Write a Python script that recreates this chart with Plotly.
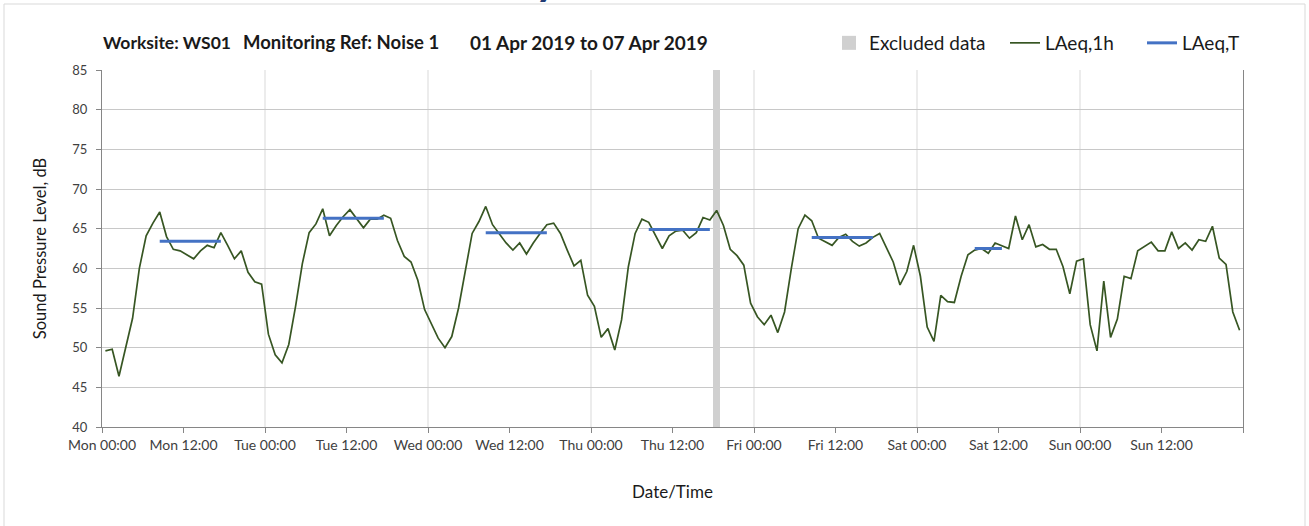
import pandas as pd
import plotly.graph_objects as go

# ---------------- data ----------------
period_start = "2019-04-01 00:00"
period_end = "2019-04-08 00:00"

# hourly LAeq,1h values (Mon 00:00 ... Sun 23:00), dB
laeq_1h_mon = [49.6, 49.8, 46.4, 50.2, 53.7, 60.0, 64.1, 65.7, 67.1, 64.0, 62.4, 62.2,
               61.7, 61.2, 62.2, 62.9, 62.6, 64.5, 62.9, 61.2, 62.2, 59.5, 58.3, 58.0]
laeq_1h_tue = [51.7, 49.1, 48.1, 50.4, 55.2, 60.6, 64.5, 65.6, 67.5, 64.1, 65.4, 66.5,
               67.4, 66.3, 65.1, 66.2, 66.2, 66.7, 66.3, 63.5, 61.5, 60.8, 58.5, 54.8]
laeq_1h_wed = [52.9, 51.2, 50.0, 51.4, 55.0, 59.8, 64.4, 65.9, 67.8, 65.5, 64.4, 63.2,
               62.3, 63.2, 61.8, 63.2, 64.4, 65.5, 65.7, 64.4, 62.3, 60.3, 61.0, 56.6]
laeq_1h_thu = [55.2, 51.3, 52.4, 49.7, 53.5, 60.2, 64.4, 66.2, 65.8, 64.2, 62.5, 64.1,
               64.7, 64.8, 63.8, 64.5, 66.4, 66.1, 67.3, 65.4, 62.4, 61.6, 60.4, 55.6]
laeq_1h_fri = [53.9, 52.9, 54.1, 51.9, 54.5, 60.0, 65.0, 66.7, 66.0, 63.8, 63.4, 62.9,
               63.9, 64.3, 63.4, 62.8, 63.2, 63.9, 64.4, 62.7, 60.8, 57.9, 59.6, 62.9]
laeq_1h_sat = [59.0, 52.6, 50.8, 56.6, 55.8, 55.7, 59.0, 61.7, 62.3, 62.5, 61.9, 63.2,
               62.9, 62.5, 66.6, 63.6, 65.5, 62.7, 63.0, 62.4, 62.4, 60.2, 56.8, 60.9]
laeq_1h_sun = [61.2, 52.9, 49.6, 58.4, 51.3, 53.6, 59.0, 58.7, 62.2, 62.8, 63.3, 62.2,
               62.2, 64.6, 62.5, 63.2, 62.3, 63.6, 63.4, 65.3, 61.3, 60.5, 54.5, 52.2]

# LAeq,T (working-hours average) per day
laeq_t_dates = ["2019-04-01", "2019-04-02", "2019-04-03", "2019-04-04", "2019-04-05", "2019-04-06"]
laeq_t_values = [63.4, 66.3, 64.5, 64.9, 63.9, 62.5]
laeq_t_start_hour = [8, 8, 8, 8, 8, 8]
laeq_t_end_hour = [18, 18, 18, 18, 18, 13]

# excluded period
excluded_start = "2019-04-04 18:00"
excluded_end = "2019-04-04 19:00"

y_min, y_max = 40, 85

title_parts = ["Worksite: WS01", "Monitoring Ref: Noise 1", "01 Apr 2019 to 07 Apr 2019"]

# ---------------- build ----------------
laeq_1h = (laeq_1h_mon + laeq_1h_tue + laeq_1h_wed + laeq_1h_thu
           + laeq_1h_fri + laeq_1h_sat + laeq_1h_sun)
half_hour = pd.Timedelta(minutes=30)
hour_times = pd.date_range(period_start, periods=len(laeq_1h), freq="h") + half_hour

t_x, t_y = [], []
for d, v, h0, h1 in zip(laeq_t_dates, laeq_t_values, laeq_t_start_hour, laeq_t_end_hour):
    base = pd.Timestamp(d)
    for h in range(h0, h1):
        t_x.append(base + pd.Timedelta(hours=h) + half_hour)
        t_y.append(v)
    t_x.append(None)
    t_y.append(None)

ex0, ex1 = pd.Timestamp(excluded_start), pd.Timestamp(excluded_end)
ex_mid = ex0 + (ex1 - ex0) / 2
ex_width_ms = (ex1 - ex0).total_seconds() * 1000

FONT = "Lato"
GREEN = "#375623"
BLUE = "#4472C4"
BAND = "#D0D0D0"

fig = go.Figure()
fig.add_trace(go.Bar(
    x=[ex_mid], y=[y_max - y_min], base=[y_min], width=[ex_width_ms],
    marker=dict(color=BAND, line=dict(width=0)), name="Excluded data",
    showlegend=False, hoverinfo="skip"))
# legend entry for the excluded band (square swatch)
fig.add_trace(go.Scatter(
    x=[None], y=[None], mode="markers", name="Excluded data",
    marker=dict(symbol="square", size=14, color=BAND), legend="legend"))
fig.add_trace(go.Scatter(
    x=hour_times, y=laeq_1h, mode="lines", name="LAeq,1h",
    line=dict(color=GREEN, width=1.7), legend="legend2"))
fig.add_trace(go.Scatter(
    x=t_x, y=t_y, mode="lines", name="LAeq,T", connectgaps=False,
    line=dict(color=BLUE, width=3), legend="legend3"))

tick_vals = pd.date_range(period_start, period_end, freq="12h")
tick_text = [t.strftime("%a %H:%M") for t in tick_vals]
tick_text[-1] = ""

shapes = []
for d in pd.date_range(period_start, period_end, freq="D")[1:-1]:
    shapes.append(dict(type="line", xref="x", yref="paper", x0=d, x1=d, y0=0, y1=1,
                       line=dict(color="#D9D9D9", width=1), layer="below"))

W, H = 1309, 526
ML, MR, MT, MB = 102, 66, 70, 99
PW, PH = W - ML - MR, H - MT - MB


def px(x):
    return (x - ML) / PW


def py(y):
    return (H - MB - y) / PH


# outer frame
shapes.append(dict(type="rect", xref="paper", yref="paper",
                   x0=px(4), x1=px(1305), y0=py(540), y1=py(4),
                   line=dict(color="#D9D9D9", width=1), fillcolor="rgba(0,0,0,0)",
                   layer="below"))

annotations = []
for text, xl, fs in zip(title_parts, [101, 241, 468], [17.5, 18.5, 19]):
    annotations.append(dict(text=f"<b>{text}</b>", x=px(xl), y=py(42), xref="paper", yref="paper",
                            xanchor="left", yanchor="middle", showarrow=False,
                            font=dict(family=FONT, size=fs, color="#1a1a1a")))
# descender of the heading that sits above the visible area
annotations.append(dict(text="<b>y</b>", x=px(547), y=py(-22), xref="paper", yref="paper",
                        xanchor="center", yanchor="middle", showarrow=False,
                        font=dict(family=FONT, size=44, color="#1F3B73")))

leg_common = dict(orientation="h", yanchor="middle", y=py(43), xanchor="left",
                  font=dict(family=FONT, size=19, color="#1a1a1a"),
                  bgcolor="rgba(0,0,0,0)", borderwidth=0, itemwidth=30)

fig.update_layout(
    width=W, height=H,
    margin=dict(l=ML, r=MR, t=MT, b=MB, autoexpand=False),
    paper_bgcolor="white", plot_bgcolor="white",
    showlegend=True,
    legend=dict(leg_common, x=px(829)),
    legend2=dict(leg_common, x=px(1005)),
    legend3=dict(leg_common, x=px(1142)),
    shapes=shapes,
    annotations=annotations,
    font=dict(family=FONT, color="#404040"),
    xaxis=dict(
        type="date", range=[period_start, period_end],
        tickmode="array", tickvals=tick_vals, ticktext=tick_text,
        ticks="outside", ticklen=5, tickcolor="#868686", tickwidth=1,
        showgrid=False, showline=True, linecolor="#868686", linewidth=1,
        tickfont=dict(family=FONT, size=14, color="#404040"),
        title=dict(text="Date/Time", font=dict(family=FONT, size=17, color="#1a1a1a"), standoff=34),
        zeroline=False, automargin=False,
    ),
    yaxis=dict(
        range=[y_min, y_max], dtick=5, tick0=0,
        ticks="outside", ticklen=5, tickcolor="#868686", tickwidth=1,
        showgrid=True, gridcolor="#C8C8C8", gridwidth=1,
        showline=True, linecolor="#868686", linewidth=1, mirror=True,
        tickfont=dict(family=FONT, size=13, color="#404040"), ticklabelstandoff=6,
        title=dict(text="Sound Pressure Level, dB", font=dict(family=FONT, size=16.5, color="#1a1a1a"),
                   standoff=21),
        zeroline=False, automargin=False,
    ),
    bargap=0,
)

fig.write_html("out.html", config={"displayModeBar": False},
               post_script="document.body.style.margin='0px';")
